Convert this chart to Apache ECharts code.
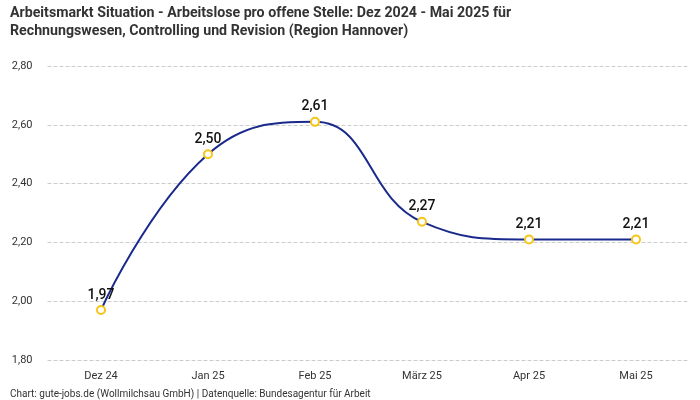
<!DOCTYPE html>
<html><head><meta charset="utf-8">
<script src="https://cdn.jsdelivr.net/npm/echarts@6/dist/echarts.min.js"></script>
<style>html,body{margin:0;padding:0;background:#fff}#c{width:700px;height:400px}</style>
</head><body><div id="c"></div>
<script>
const categories = ["Dez 24", "Jan 25", "Feb 25", "März 25", "Apr 25", "Mai 25"];
const values = [1.97, 2.50, 2.61, 2.27, 2.21, 2.21];
const titleText = "Arbeitsmarkt Situation - Arbeitslose pro offene Stelle: Dez 2024 - Mai 2025 für\nRechnungswesen, Controlling und Revision (Region Hannover)";
const footerText = "Chart: gute-jobs.de (Wollmilchsau GmbH) | Datenquelle: Bundesagentur für Arbeit";
const fmt = v => v.toFixed(2).replace('.', ',');
const chart = echarts.init(document.getElementById('c'));
chart.setOption({
  animation: false,
  textStyle: {fontFamily: 'Roboto'},
  title: [{
    text: titleText, left: 5, top: -1,
    textStyle: {fontSize: 14.2, fontWeight: 'bold', color: '#333', lineHeight: 18, fontFamily: 'Roboto'}
  }, {
    text: footerText, left: 5, top: 384,
    textStyle: {fontSize: 10, fontWeight: 'normal', color: '#333', fontFamily: 'Roboto'}
  }],
  grid: {left: 47.5, right: 10.5, top: 66, bottom: 40, containLabel: false},
  xAxis: {
    type: 'category', data: categories, boundaryGap: true,
    axisLine: {show: false}, axisTick: {show: false},
    axisLabel: {color: '#333', fontSize: 11, margin: 11}
  },
  yAxis: {
    type: 'value', min: 1.8, max: 2.8, interval: 0.2,
    axisLabel: {color: '#333', fontSize: 11, formatter: v => fmt(v), margin: 15},
    splitLine: {lineStyle: {type: 'dashed', color: '#ccc'}}
  },
  series: [{
    type: 'line', data: values, smooth: 0.45,
    lineStyle: {color: '#1a2a8c', width: 2},
    symbol: 'circle', symbolSize: 8,
    itemStyle: {color: '#fff', borderColor: '#f5c518', borderWidth: 2},
    label: {show: true, position: 'top', formatter: p => fmt(p.value), fontSize: 14, fontWeight: 500, color: '#111', distance: 3}
  }]
});
</script></body></html>
